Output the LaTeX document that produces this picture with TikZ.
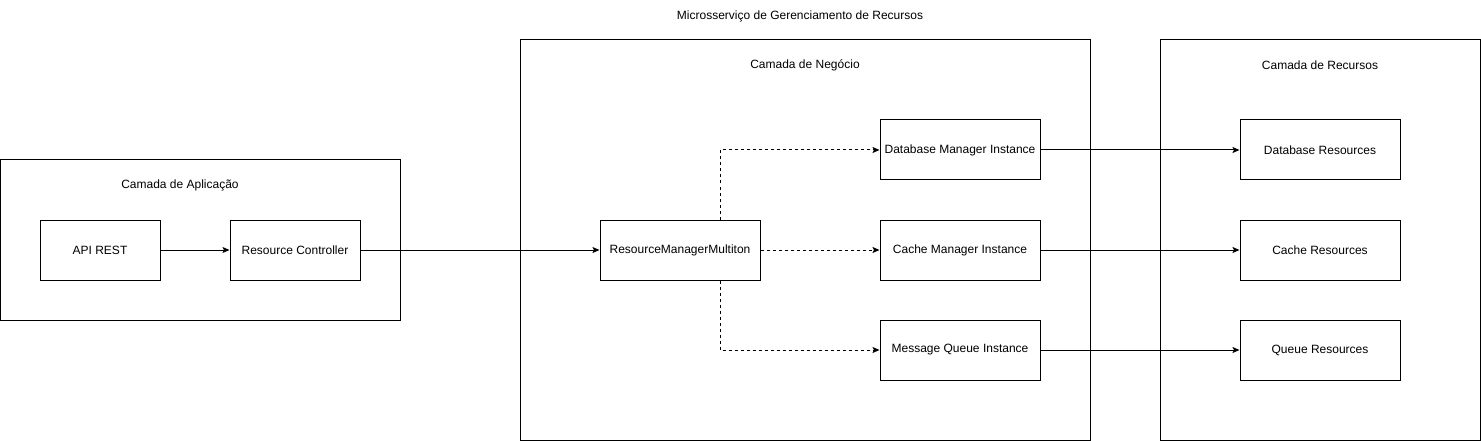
\documentclass[tikz,border=0pt]{standalone}
\usepackage{fontspec}
\setmainfont{Liberation Sans}
\usetikzlibrary{arrows.meta}
\begin{document}
\begin{tikzpicture}[x=1pt,y=-1pt,
  every node/.style={font=\fontsize{12}{14}\selectfont},
  box/.style={draw,line width=1pt,minimum width=160pt,minimum height=60pt,inner sep=0pt},
  layer/.style={draw,line width=1pt,inner sep=0pt},
  lbl/.style={inner sep=0pt},
  conn/.style={line width=1pt,-{Stealth[length=7pt,width=6pt,inset=1.5pt]}},
  dconn/.style={conn,dash pattern=on 3pt off 3pt}]
\useasboundingbox (0,0) rectangle (1481,441);
% layers
\node[layer,minimum width=400pt,minimum height=160pt] (app) at (200,240) {};
\node[layer,minimum width=570pt,minimum height=400pt] (neg) at (805,240) {};
\node[layer,minimum width=320pt,minimum height=400pt] (rec) at (1320,240) {};
% labels
\node[lbl] (title) at (800,16) {Microsserviço de Gerenciamento de Recursos};
\node[lbl] (lapp) at (180,185) {Camada de Aplicação};
\node[lbl] (lneg) at (805,65) {Camada de Negócio};
\node[lbl] (lrec) at (1320,65) {Camada de Recursos};
% nodes
\node[box,minimum width=120pt] (api) at (100,250) {API REST};
\node[box,minimum width=130pt] (ctrl) at (295,250) {Resource Controller};
\node[box] (rmm) at (680,250) {ResourceManagerMultiton};
\node[box] (dbm) at (960,150) {Database Manager Instance};
\node[box] (cm) at (960,250) {Cache Manager Instance};
\node[box] (mq) at (960,350) {Message Queue Instance};
\node[box] (dbr) at (1320,150) {Database Resources};
\node[box] (cr) at (1320,250) {Cache Resources};
\node[box] (qr) at (1320,350) {Queue Resources};
% connectors
\draw[conn] (api) -- (ctrl);
\draw[conn] (ctrl) -- (rmm);
\draw[dconn] (rmm.north) ++(40pt,0) |- (dbm.west);
\draw[dconn] (rmm) -- (cm);
\draw[dconn] (rmm.south) ++(40pt,0) |- (mq.west);
\draw[conn] (dbm) -- (dbr);
\draw[conn] (cm) -- (cr);
\draw[conn] (mq) -- (qr);
\end{tikzpicture}
\end{document}
